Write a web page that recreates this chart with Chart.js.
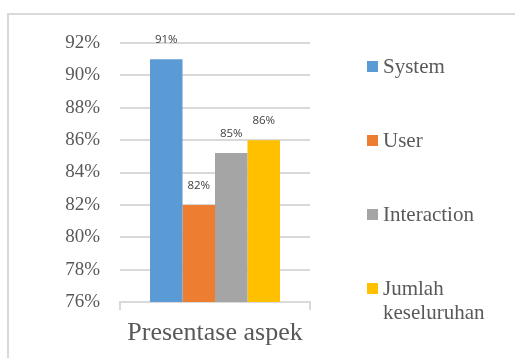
<!DOCTYPE html>
<html>
<head>
<meta charset="utf-8">
<script src="https://cdn.jsdelivr.net/npm/chart.js@4/dist/chart.umd.min.js"></script>
<style>
  html, body { margin: 0; padding: 0; background: #fff; overflow: hidden; }
  #wrap { position: relative; width: 525px; height: 358px; }
  #frame { position: absolute; left: 7px; top: 13px; width: 508px; height: 400px;
           border-top: 2px solid #d9d9d9; border-left: 2px solid #d9d9d9; box-sizing: border-box; }
  canvas { position: absolute; left: 0; top: 0; }
</style>
</head>
<body>
<div id="wrap">
  <div id="frame"></div>
  <canvas id="c" width="525" height="358"></canvas>
</div>
<script>
const categories = ['Presentase aspek'];
const seriesNames = ['System', 'User', 'Interaction', ['Jumlah', 'keseluruhan']];
const seriesValues = [[91.0], [82.0], [85.2], [86.0]];
const seriesColors = ['#5b9bd5', '#ed7d31', '#a5a5a5', '#ffc000'];
const yTicks = { min: 76, max: 92, step: 2 };

const SERIF = "'Liberation Serif', 'Times New Roman', serif";
const SANS = "'Open Sans', 'Liberation Sans', sans-serif";

const datasets = seriesNames.map((name, i) => ({
  label: name,
  data: seriesValues[i],
  backgroundColor: seriesColors[i],
  borderWidth: 0,
  categoryPercentage: 0.684,
  barPercentage: 1.0
}));

const valueLabels = {
  id: 'valueLabels',
  afterDatasetsDraw(chart) {
    const ctx = chart.ctx;
    ctx.save();
    ctx.font = '11.5px ' + SANS;
    ctx.fillStyle = '#404040';
    ctx.textAlign = 'center';
    ctx.textBaseline = 'middle';
    chart.data.datasets.forEach((ds, i) => {
      const meta = chart.getDatasetMeta(i);
      meta.data.forEach((bar, j) => {
        ctx.fillText(Math.round(ds.data[j]) + '%', bar.x, bar.y - 19);
      });
    });
    ctx.restore();
  }
};

const sideLegend = {
  id: 'sideLegend',
  afterDraw(chart) {
    const ctx = chart.ctx;
    const area = chart.chartArea;
    ctx.save();
    ctx.font = '21px ' + SERIF;
    ctx.textBaseline = 'middle';
    ctx.textAlign = 'left';
    const x0 = area.right + 57;
    const yStart = area.top + 23.5;
    const gap = 74;
    chart.data.datasets.forEach((ds, i) => {
      const cy = yStart + i * gap;
      ctx.fillStyle = ds.backgroundColor;
      ctx.fillRect(x0, cy - 5.5, 11, 11);
      ctx.fillStyle = '#595959';
      const lines = Array.isArray(ds.label) ? ds.label : [ds.label];
      lines.forEach((ln, k) => {
        ctx.fillText(ln, x0 + 16, cy + 1 + k * 24);
      });
    });
    ctx.restore();
  }
};

function build() {
  new Chart(document.getElementById('c'), {
    type: 'bar',
    data: { labels: categories, datasets },
    options: {
      responsive: false,
      animation: false,
      layout: { padding: { top: 43, right: 215, bottom: 0, left: 0 } },
      plugins: {
        legend: { display: false },
        tooltip: { enabled: false }
      },
      scales: {
        x: {
          afterFit(scale) { scale.height = 56; },
          grid: {
            display: true,
            drawOnChartArea: false,
            drawTicks: true,
            tickLength: 8,
            color: '#d9d9d9',
            lineWidth: 2,
            offset: true
          },
          border: { display: true, color: '#d9d9d9', width: 2 },
          ticks: {
            color: '#595959',
            font: { family: SERIF, size: 26 },
            padding: 8
          }
        },
        y: {
          min: yTicks.min,
          max: yTicks.max,
          afterFit(scale) { scale.width = 120; },
          ticks: {
            stepSize: yTicks.step,
            color: '#595959',
            padding: 20,
            font: { family: SERIF, size: 19 },
            callback: v => v + '%'
          },
          grid: { color: '#d9d9d9', lineWidth: 2, drawTicks: false },
          border: { display: false }
        }
      }
    },
    plugins: [valueLabels, sideLegend]
  });
}

Promise.all([
  document.fonts.load("19px 'Liberation Serif'"),
  document.fonts.load("11.5px 'Open Sans'")
]).then(build, build);
</script>
</body>
</html>
